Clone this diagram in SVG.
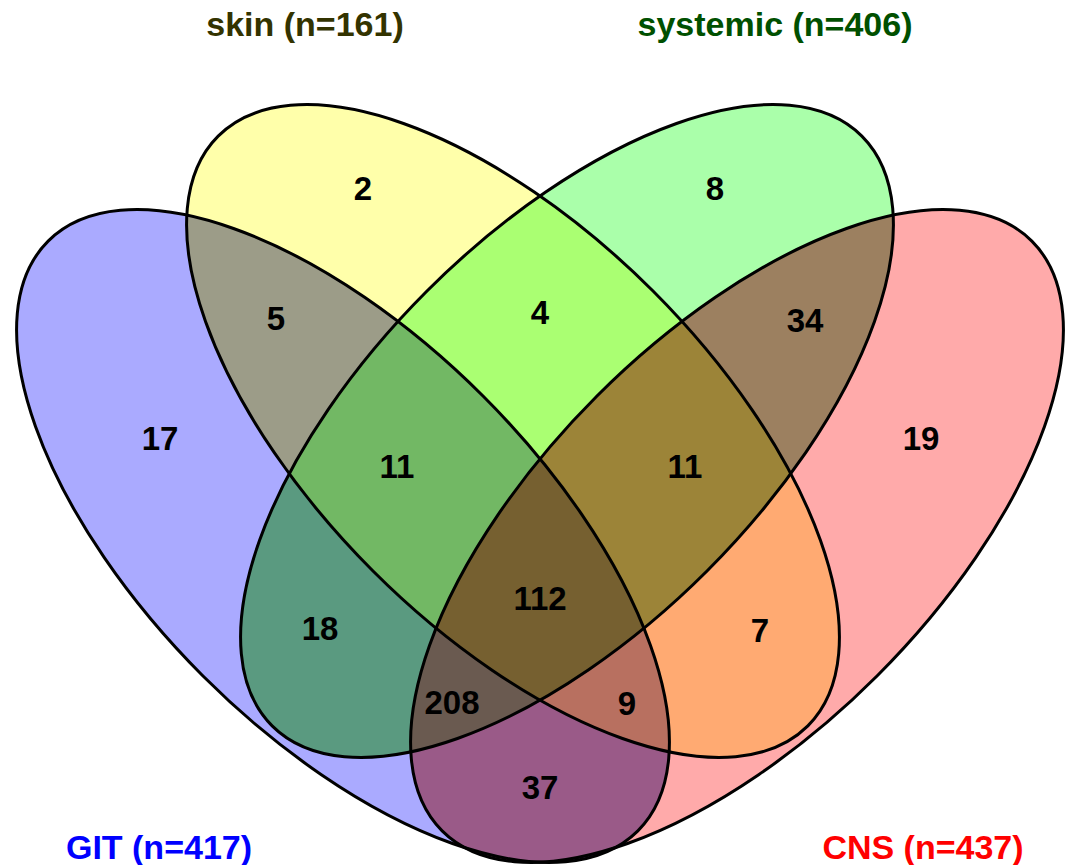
<svg xmlns="http://www.w3.org/2000/svg" xmlns:xlink="http://www.w3.org/1999/xlink" width="1069" height="865" viewBox="0 0 1069 865">
<style>
.edge{fill:none;stroke:#000;stroke-width:3}
.num{font-family:"Liberation Sans",Arial,sans-serif;font-weight:bold;font-size:33px;text-anchor:middle;fill:#000}
.cat{font-family:"Liberation Sans",Arial,sans-serif;font-weight:bold;font-size:34px;text-anchor:middle}
</style>
<defs>
<ellipse id="eG" rx="417" ry="198" transform="translate(343 536) rotate(45)"/>
<ellipse id="eS" rx="417" ry="198" transform="translate(513 431) rotate(45)"/>
<ellipse id="eY" rx="417" ry="198" transform="translate(567 431) rotate(-45)"/>
<ellipse id="eC" rx="417" ry="198" transform="translate(737 536) rotate(-45)"/>
<clipPath id="cG"><use href="#eG"/></clipPath>
<clipPath id="cS"><use href="#eS"/></clipPath>
<clipPath id="cY"><use href="#eY"/></clipPath>
<clipPath id="cC"><use href="#eC"/></clipPath>
</defs>
<rect width="1069" height="865" fill="#fff"/>
<g id="GIT">
<use href="#eG" fill="#AAAAFF"/>
<text class="cat" x="159" y="859" fill="#0000FF">GIT (n=417)</text>
</g>
<g id="skin">
<use href="#eS" fill="#FFFFAA"/>
<text class="cat" x="305" y="36" fill="#333300">skin (n=161)</text>
</g>
<g id="systemic">
<use href="#eY" fill="#AAFFAA"/>
<text class="cat" x="775" y="36" fill="#005000">systemic (n=406)</text>
</g>
<g id="CNS">
<use href="#eC" fill="#FFAAAA"/>
<text class="cat" x="923" y="859" fill="#FF0000">CNS (n=437)</text>
</g>
<g id="overlaps">
<use href="#eS" fill="#9C9C88" clip-path="url(#cG)"/>
<use href="#eY" fill="#5A9A80" clip-path="url(#cG)"/>
<use href="#eC" fill="#9A5A88" clip-path="url(#cG)"/>
<use href="#eY" fill="#AAFF72" clip-path="url(#cS)"/>
<use href="#eC" fill="#FFAA72" clip-path="url(#cS)"/>
<use href="#eC" fill="#9C8060" clip-path="url(#cY)"/>
<g clip-path="url(#cG)"><use href="#eY" fill="#72B864" clip-path="url(#cS)"/></g>
<g clip-path="url(#cG)"><use href="#eC" fill="#B87060" clip-path="url(#cS)"/></g>
<g clip-path="url(#cG)"><use href="#eC" fill="#6A5A50" clip-path="url(#cY)"/></g>
<g clip-path="url(#cS)"><use href="#eC" fill="#9C8438" clip-path="url(#cY)"/></g>
<g clip-path="url(#cG)"><g clip-path="url(#cS)"><use href="#eC" fill="#766030" clip-path="url(#cY)"/></g></g>
</g>
<g id="connectors">
<use href="#eG" class="edge"/>
<use href="#eS" class="edge"/>
<use href="#eY" class="edge"/>
<use href="#eC" class="edge"/>
</g>
<g id="regions">
<text class="num" x="363" y="200">2</text>
<text class="num" x="715" y="200">8</text>
<text class="num" x="276" y="330">5</text>
<text class="num" x="540" y="324">4</text>
<text class="num" x="805" y="332">34</text>
<text class="num" x="160" y="450">17</text>
<text class="num" x="397" y="478">11</text>
<text class="num" x="685" y="478">11</text>
<text class="num" x="921" y="450">19</text>
<text class="num" x="540" y="610">112</text>
<text class="num" x="320" y="640">18</text>
<text class="num" x="760" y="642">7</text>
<text class="num" x="452" y="714">208</text>
<text class="num" x="627" y="715">9</text>
<text class="num" x="540" y="799">37</text>
</g>
</svg>
